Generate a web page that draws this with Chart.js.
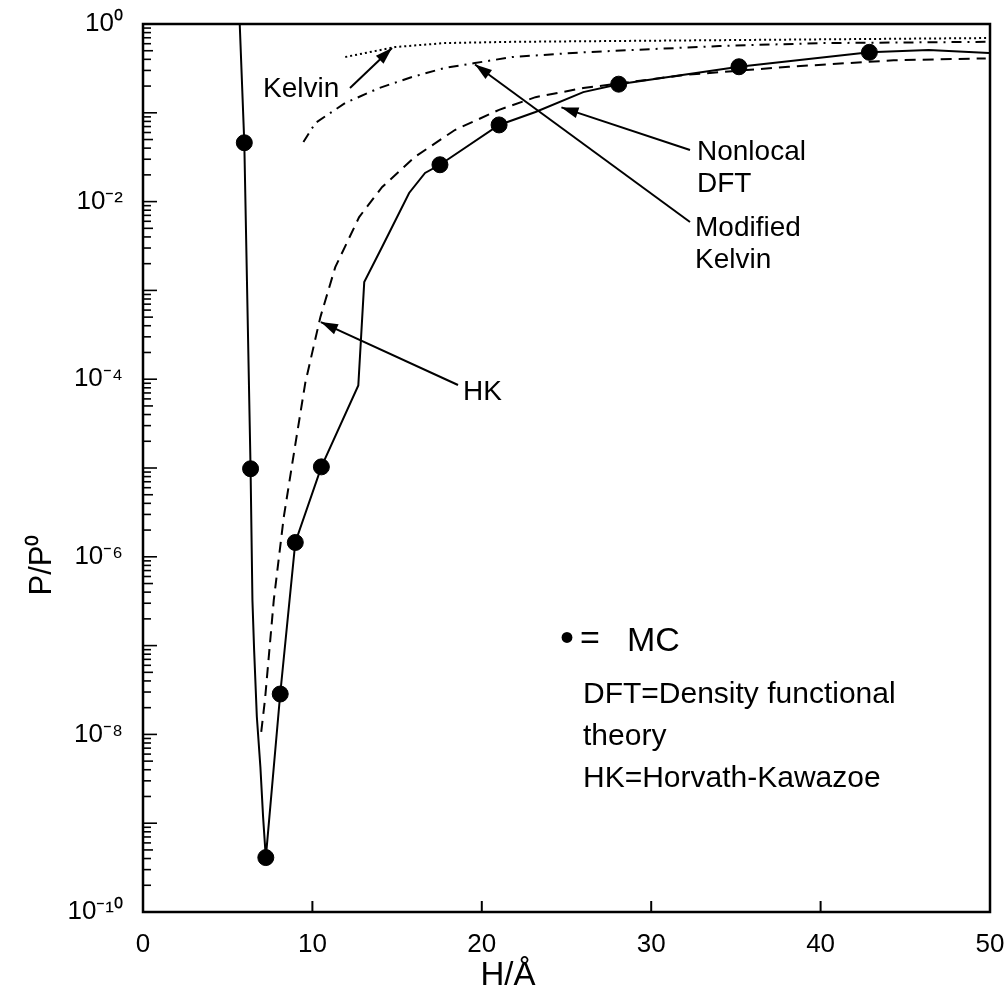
<!DOCTYPE html>
<html>
<head>
<meta charset="utf-8">
<script src="https://cdn.jsdelivr.net/npm/chart.js@4.4.1/dist/chart.umd.min.js"></script>
<style>
  html, body { margin: 0; padding: 0; background: #fff; }
</style>
</head>
<body>
<canvas id="poreChart" width="1006" height="1006"></canvas>
<script>
// pore width H (Angstrom) vs relative pressure P/P0
const mcX = [5.98, 6.35, 7.25, 8.10, 8.99, 10.53, 17.53, 21.02, 28.08, 35.18, 42.88];
const mcY = [0.046, 9.8e-6, 4.1e-10, 2.85e-8, 1.45e-6, 1.03e-5, 0.026, 0.073, 0.21, 0.33, 0.48];

const dftX = [5.71, 5.98, 6.35, 6.46, 6.56, 6.72, 6.93, 7.09, 7.25, 8.10, 8.99, 10.53, 12.71, 13.06,
              14.12, 15.71, 16.65, 17.53, 21.02, 23.17, 25.99, 28.08, 35.18, 42.88, 46.38, 49.94];
const dftY = [1.0, 0.046, 9.8e-6, 3.25e-7, 8.9e-8, 1.58e-8, 4.3e-9, 1.17e-9, 4.1e-10, 2.85e-8, 1.45e-6, 1.03e-5, 8.5e-5, 1.24e-3,
              3.1e-3, 1.25e-2, 2.1e-2, 2.6e-2, 7.3e-2, 0.102, 0.171, 0.21, 0.33, 0.48, 0.51, 0.47];

const hkX = [6.98, 7.20, 7.46, 7.72, 8.31, 8.94, 9.58, 10.47, 11.35, 12.76, 14.12, 16.06, 18.41, 21.02, 23.17, 25.99, 32.01, 38.11, 44.31, 49.75];
const hkY = [1.07e-8, 2.45e-8, 8.9e-8, 3.25e-7, 2.8e-6, 1.6e-5, 9.1e-5, 5.0e-4, 1.83e-3, 6.7e-3, 1.46e-2, 3.2e-2, 6.4e-2, 0.108, 0.15, 0.19, 0.267, 0.33, 0.39, 0.41];

const modKelvinX = [9.47, 10.18, 11.94, 13.94, 15.88, 17.82, 19.59, 21.80, 25.99, 34.02, 40.13, 49.94];
const modKelvinY = [0.047, 0.077, 0.129, 0.19, 0.253, 0.32, 0.363, 0.425, 0.48, 0.565, 0.61, 0.63];

const kelvinX = [11.94, 14.88, 17.82, 21.80, 35.06, 49.94];
const kelvinY = [0.425, 0.55, 0.61, 0.63, 0.66, 0.695];

const xTicks = [0, 10, 20, 30, 40, 50];
const yTickExp = [0, -2, -4, -6, -8, -10];

const pts = (xs, ys) => xs.map((v, i) => ({ x: v, y: ys[i] }));
const SUP = { '0': '⁰', '1': '¹', '2': '²', '4': '⁴', '6': '⁶', '8': '⁸', '-': '⁻' };
const FONT = '"Liberation Sans", Arial, Helvetica, sans-serif';

// arrow labels: tip given in data units, text/tail in pixels
const notes = [
  { lines: ['Kelvin'], tx: 263, ty: 89, tail: [350, 88], tip: [14.7, 0.537] },
  { lines: ['Nonlocal', 'DFT'], tx: 697, ty: 152, tail: [690, 150], tip: [24.7, 0.115] },
  { lines: ['Modified', 'Kelvin'], tx: 695, ty: 228, tail: [690, 222], tip: [19.6, 0.35] },
  { lines: ['HK'], tx: 463, ty: 392, tail: [458, 385], tip: [10.5, 4.4e-4] }
];

function line(ctx, x1, y1, x2, y2) {
  ctx.beginPath(); ctx.moveTo(x1, y1); ctx.lineTo(x2, y2); ctx.stroke();
}

function arrow(ctx, x1, y1, x2, y2) {
  line(ctx, x1, y1, x2, y2);
  const ang = Math.atan2(y2 - y1, x2 - x1);
  const len = 17, w = 5.5;
  ctx.beginPath();
  ctx.moveTo(x2, y2);
  ctx.lineTo(x2 - len * Math.cos(ang) + w * Math.sin(ang), y2 - len * Math.sin(ang) - w * Math.cos(ang));
  ctx.lineTo(x2 - len * Math.cos(ang) - w * Math.sin(ang), y2 - len * Math.sin(ang) + w * Math.cos(ang));
  ctx.closePath();
  ctx.fill();
}

const decor = {
  id: 'decor',
  afterDatasetsDraw(chart) {
    const ctx = chart.ctx, a = chart.chartArea;
    const xs = chart.scales.x, ys = chart.scales.y;
    ctx.save();
    ctx.strokeStyle = '#000';
    ctx.fillStyle = '#000';

    // frame
    ctx.lineWidth = 2.5;
    ctx.strokeRect(a.left, a.top, a.right - a.left, a.bottom - a.top);

    // inward log ticks on the left axis
    ctx.lineWidth = 1.6;
    for (let e = -10; e < 0; e++) {
      for (let k = 1; k < 10; k++) {
        const py = ys.getPixelForValue(k * Math.pow(10, e));
        const len = k === 1 ? 14 : (k === 5 ? 10 : 8);
        line(ctx, a.left, py, a.left + len, py);
      }
    }
    // inward ticks on the bottom axis
    ctx.lineWidth = 2;
    xTicks.slice(1, -1).forEach(v => {
      const px = xs.getPixelForValue(v);
      line(ctx, px, a.bottom, px, a.bottom - 11);
    });

    // arrows and their labels
    ctx.lineWidth = 2;
    ctx.font = '28px ' + FONT;
    ctx.textBaseline = 'middle';
    ctx.textAlign = 'left';
    notes.forEach(n => {
      arrow(ctx, n.tail[0], n.tail[1], xs.getPixelForValue(n.tip[0]), ys.getPixelForValue(n.tip[1]));
      n.lines.forEach((t, i) => ctx.fillText(t, n.tx, n.ty + i * 32));
    });

    // key
    ctx.font = '40px ' + FONT;
    ctx.fillText('•', 560, 640);
    ctx.font = '34px ' + FONT;
    ctx.fillText('=', 580, 640);
    ctx.fillText('MC', 627, 642);
    ctx.font = '30px ' + FONT;
    ctx.fillText('DFT=Density functional', 583, 695);
    ctx.fillText('theory', 583, 737);
    ctx.fillText('HK=Horvath-Kawazoe', 583, 779);

    // axis titles
    ctx.font = '33px ' + FONT;
    ctx.textAlign = 'center';
    ctx.fillText('H/Å', 508, 976);
    ctx.font = '31px ' + FONT;
    ctx.save();
    ctx.translate(42, 565);
    ctx.rotate(-Math.PI / 2);
    ctx.fillText('P/P⁰', 0, 0);
    ctx.restore();

    ctx.restore();
  }
};

const config = {
  type: 'scatter',
  data: {
    datasets: [{
      label: 'MC',
      data: pts(mcX, mcY),
      showLine: false,
      pointRadius: 8,
      pointBackgroundColor: '#000',
      pointBorderColor: '#000'
    }, {
      label: 'Nonlocal DFT',
      data: pts(dftX, dftY),
      showLine: true,
      borderColor: '#000',
      borderWidth: 2,
      pointRadius: 0
    }, {
      label: 'HK',
      data: pts(hkX, hkY),
      showLine: true,
      borderColor: '#000',
      borderWidth: 2,
      borderDash: [11, 7],
      pointRadius: 0
    }, {
      label: 'Modified Kelvin',
      data: pts(modKelvinX, modKelvinY),
      showLine: true,
      borderColor: '#000',
      borderWidth: 2,
      borderDash: [10, 6, 2, 6],
      pointRadius: 0
    }, {
      label: 'Kelvin',
      data: pts(kelvinX, kelvinY),
      showLine: true,
      borderColor: '#000',
      borderWidth: 2,
      borderDash: [2, 3],
      pointRadius: 0
    }]
  },
  options: {
    responsive: false,
    animation: false,
    layout: { padding: { top: 24, right: 16, left: 0, bottom: 0 } },
    plugins: { legend: { display: false }, tooltip: { enabled: false } },
    scales: {
      x: {
        type: 'linear',
        min: 0,
        max: 50,
        grid: { display: false },
        border: { display: false },
        afterBuildTicks: s => { s.ticks = xTicks.map(v => ({ value: v })); },
        afterFit: s => { s.height = 94; s.paddingLeft = 0; s.paddingRight = 0; },
        ticks: {
          autoSkip: false,
          maxRotation: 0,
          padding: 9,
          color: '#000',
          font: { family: FONT, size: 26 }
        }
      },
      y: {
        type: 'logarithmic',
        min: 1e-10,
        max: 1,
        grid: { display: false },
        border: { display: false },
        afterBuildTicks: s => { s.ticks = yTickExp.map(e => ({ value: Math.pow(10, e) })); },
        afterFit: s => { s.width = 143; s.paddingTop = 0; s.paddingBottom = 0; },
        ticks: {
          autoSkip: false,
          padding: 12,
          color: '#000',
          font: { family: FONT, size: 26 },
          callback: v => '10' + String(Math.round(Math.log10(v))).split('').map(c => SUP[c] || c).join('')
        }
      }
    }
  },
  plugins: [decor]
};

new Chart(document.getElementById('poreChart').getContext('2d'), config);
</script>
</body>
</html>
